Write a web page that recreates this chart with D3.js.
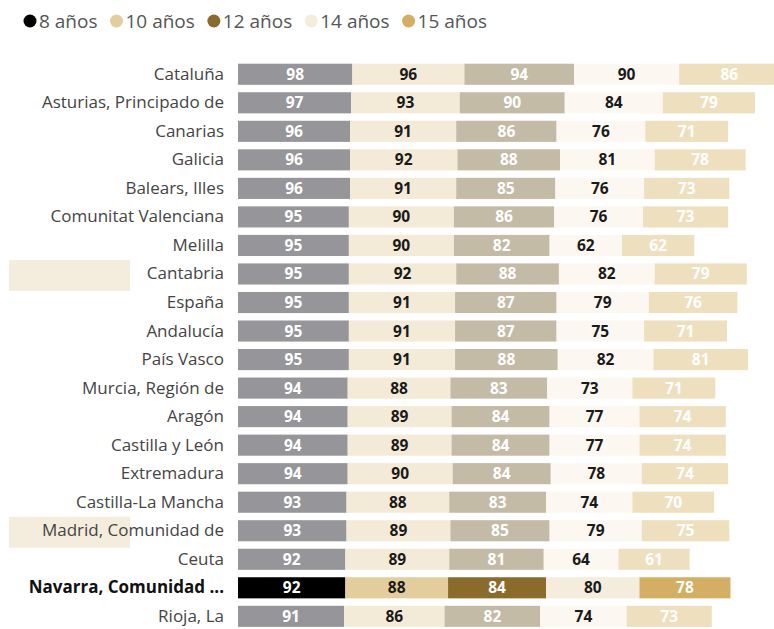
<!DOCTYPE html>
<html>
<head>
<meta charset="utf-8">
<script src="https://cdn.jsdelivr.net/npm/d3@7/dist/d3.min.js"></script>
<style>
  html, body { margin: 0; padding: 0; background: #fff; }
  svg { display: block; }
  text { font-family: "Open Sans", "Noto Sans", sans-serif; }
</style>
</head>
<body>
<svg id="chart" width="774" height="629"></svg>
<script>
// Regions (rows, top to bottom)
const regions = [
  "Cataluña", "Asturias, Principado de", "Canarias", "Galicia", "Balears, Illes",
  "Comunitat Valenciana", "Melilla", "Cantabria", "España", "Andalucía",
  "País Vasco", "Murcia, Región de", "Aragón", "Castilla y León", "Extremadura",
  "Castilla-La Mancha", "Madrid, Comunidad de", "Ceuta", "Navarra, Comunidad ...", "Rioja, La"
];
// Series (ages)
const series = ["8 años", "10 años", "12 años", "14 años", "15 años"];
const age8  = [98, 97, 96, 96, 96, 95, 95, 95, 95, 95, 95, 94, 94, 94, 94, 93, 93, 92, 92, 91];
const age10 = [96, 93, 91, 92, 91, 90, 90, 92, 91, 91, 91, 88, 89, 89, 90, 88, 89, 89, 88, 86];
const age12 = [94, 90, 86, 88, 85, 86, 82, 88, 87, 87, 88, 83, 84, 84, 84, 83, 85, 81, 84, 82];
const age14 = [90, 84, 76, 81, 76, 76, 62, 82, 79, 75, 82, 73, 77, 77, 78, 74, 79, 64, 80, 74];
const age15 = [86, 79, 71, 78, 73, 73, 62, 79, 76, 71, 81, 71, 74, 74, 74, 70, 75, 61, 78, 73];
const highlighted = "Navarra, Comunidad ...";
const hovered = ["Cantabria", "Madrid, Comunidad de"];

// Full colours (selected row + legend) and faded colours (other rows)
const fullColors  = ["#000000", "#E4CD9C", "#8B6B2B", "#F4ECDD", "#D4AE62"];
const fadedColors = ["#96969A", "#F4EAD8", "#C4BBA6", "#FCF8F1", "#EEDFBF"];
const labelColors = ["#ffffff", "#1a1a1a", "#ffffff", "#1a1a1a", "#ffffff"];

const values = [age8, age10, age12, age14, age15];
const rows = regions.map((r, i) => {
  const row = { region: r };
  series.forEach((s, k) => row[s] = values[k][i]);
  return row;
});
const stacked = d3.stack().keys(series)(rows);

const svg = d3.select("#chart");

const x = d3.scaleLinear().domain([0, 100]).range([238, 354.7]);
const y = d3.scaleBand().domain(regions).range([60, 630.6]).paddingInner(0.26).paddingOuter(0.13);

// Hover highlight boxes behind some labels
svg.append("g").selectAll("rect").data(hovered).join("rect")
  .attr("x", 9).attr("width", 121)
  .attr("y", d => y(d) + y.bandwidth() / 2 - 14)
  .attr("height", 31)
  .attr("fill", "#F4ECDC");

// Legend
const legend = svg.append("g");
let lx = 30;
series.forEach((s, k) => {
  legend.append("circle").attr("cx", lx).attr("cy", 21).attr("r", 6.5).attr("fill", fullColors[k]);
  const t = legend.append("text").attr("x", lx + 9).attr("y", 28)
    .attr("font-size", 19).attr("fill", "#555").text(s);
  lx += 9 + t.node().getComputedTextLength() + 19;
});

// Bars
const layers = svg.append("g").selectAll("g").data(stacked).join("g");
layers.selectAll("rect").data((d, k) => d.map(p => ({ p, k }))).join("rect")
  .attr("x", d => x(d.p[0]))
  .attr("width", d => x(d.p[1]) - x(d.p[0]))
  .attr("y", d => y(d.p.data.region))
  .attr("height", y.bandwidth())
  .attr("fill", d => d.p.data.region === highlighted ? fullColors[d.k] : fadedColors[d.k]);

// Value labels
layers.selectAll("text").data((d, k) => d.map(p => ({ p, k }))).join("text")
  .attr("x", d => (x(d.p[0]) + x(d.p[1])) / 2)
  .attr("y", d => y(d.p.data.region) + y.bandwidth() / 2 + 5.5)
  .attr("text-anchor", "middle")
  .attr("font-size", 15.5).attr("font-weight", 700)
  .attr("fill", d => labelColors[d.k])
  .text(d => d.p[1] - d.p[0]);

// Region labels
svg.append("g").selectAll("text").data(regions).join("text")
  .attr("x", 224)
  .attr("y", d => y(d) + y.bandwidth() / 2 + 5.5)
  .attr("text-anchor", "end")
  .attr("font-size", 17)
  .attr("font-weight", d => d === highlighted ? 700 : 400)
  .attr("fill", d => d === highlighted ? "#111" : "#444")
  .text(d => d);
</script>
</body>
</html>
